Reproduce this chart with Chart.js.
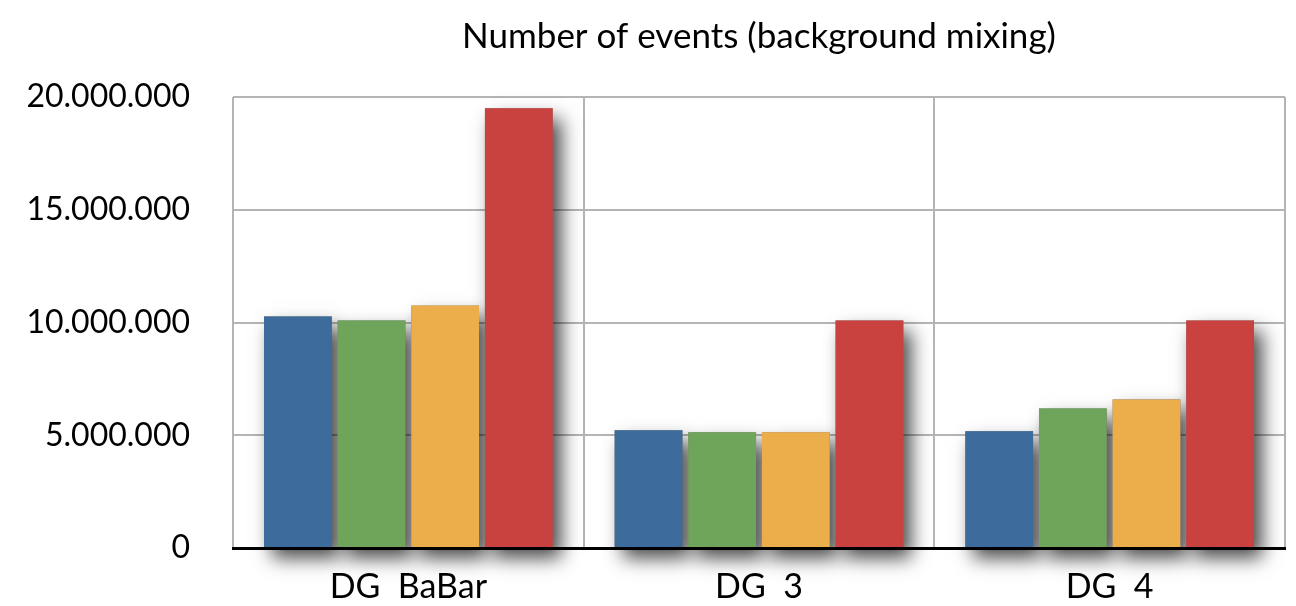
<!DOCTYPE html>
<html>
<head>
<meta charset="utf-8">
<script src="https://cdn.jsdelivr.net/npm/chart.js@4"></script>
<style>
  html, body { margin: 0; padding: 0; background: #fff; }
  #wrap { width: 1296px; height: 606px; }
</style>
</head>
<body>
<div id="wrap"><canvas id="c"></canvas></div>
<script>
// data
const labels = ['DG  BaBar', 'DG  3', 'DG  4'];
const blue = [10270000, 5220000, 5180000];
const green = [10090000, 5130000, 6190000];
const orange = [10750000, 5130000, 6590000];
const red = [19500000, 10090000, 10090000];
const yTicks = [0, 5000000, 10000000, 15000000, 20000000];

const FONT = 'Lato, "Open Sans", sans-serif';
const dots = (v) => String(v).replace(/\B(?=(\d{3})+(?!\d))/g, '.');

// schatten hinter den balken
const shadows = {
  id: 'shadows',
  beforeDatasetsDraw(chart) {
    const ctx = chart.ctx;
    ctx.save();
    ctx.shadowColor = 'rgba(0,0,0,0.72)';
    ctx.shadowBlur = 18;
    ctx.shadowOffsetX = 8;
    ctx.shadowOffsetY = 11;
    ctx.fillStyle = '#777';
    chart.getSortedVisibleDatasetMetas().forEach((m) => {
      m.data.forEach((b) => {
        const w = b.width;
        ctx.fillRect(b.x - w / 2, b.y, w, b.base - b.y);
      });
    });
    ctx.restore();
  },
};

// titel ueber der zeichenflaeche zentriert
const title = {
  id: 'ttl',
  afterDraw(chart) {
    const { ctx, chartArea } = chart;
    ctx.save();
    ctx.font = '35px ' + FONT;
    ctx.fillStyle = '#000';
    ctx.textAlign = 'center';
    ctx.textBaseline = 'middle';
    ctx.fillText('Number of events (background mixing)', (chartArea.left + chartArea.right) / 2, 37);
    ctx.restore();
  },
};

const ds = (data, color) => ({ data, backgroundColor: color, borderWidth: 0, barPercentage: 0.92, categoryPercentage: 0.84 });

new Chart(document.getElementById('c'), {
  type: 'bar',
  data: {
    labels,
    datasets: [
      ds(blue, '#3d6b9c'),
      ds(green, '#6ea55a'),
      ds(orange, '#ebae4b'),
      ds(red, '#c9423f'),
    ],
  },
  options: {
    responsive: true, maintainAspectRatio: false, animation: false,
    layout: { padding: { top: 97, right: 11, left: 0, bottom: 0 } },
    plugins: { legend: { display: false }, tooltip: { enabled: false }, title: { display: false } },
    scales: {
      y: {
        min: 0, max: 20000000,
        afterFit: (s) => { s.width = 233; },
        afterBuildTicks: (s) => { s.ticks = yTicks.map((v) => ({ value: v })); },
        grid: { color: '#b4b4b4', lineWidth: 2, drawTicks: false },
        border: { display: false },
        ticks: { padding: 43, color: '#000', font: { family: FONT, size: 32, lineHeight: 0.8 }, callback: (v) => dots(v) },
      },
      x: {
        afterFit: (s) => { s.height = 58; },
        grid: { color: '#b4b4b4', lineWidth: 2, drawTicks: false },
        border: { display: true, color: '#000', width: 3, z: 1 },
        ticks: { padding: 20, color: '#000', font: { family: FONT, size: 34, lineHeight: 1.12 } },
      },
    },
  },
  plugins: [shadows, title],
});
</script>
</body>
</html>
